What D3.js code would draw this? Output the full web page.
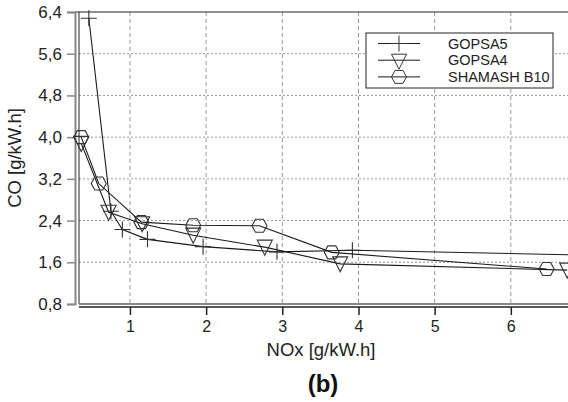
<!DOCTYPE html>
<html>
<head>
<meta charset="utf-8">
<script src="https://cdn.jsdelivr.net/npm/d3@7"></script>
<style>
    body { margin: 0; background: #fff; }
    svg { display: block; font-family: 'Liberation Sans', Arial, sans-serif; }
</style>
</head>
<body>
<div id="chart"></div>
<script>
// data
const seriesNames = ['GOPSA5', 'GOPSA4', 'SHAMASH B10'];
const gopsa5 = [[0.46, 6.28], [0.75, 2.58], [0.90, 2.23], [1.23, 2.04], [1.96, 1.90], [2.93, 1.80], [3.92, 1.83], [6.95, 1.74]];
const gopsa4 = [[0.36, 3.88], [0.72, 2.56], [1.16, 2.34], [1.83, 2.12], [2.77, 1.89], [3.76, 1.57], [6.74, 1.45]];
const shamash = [[0.36, 4.00], [0.59, 3.11], [1.15, 2.37], [1.83, 2.31], [2.70, 2.30], [3.65, 1.79], [6.47, 1.47]];
const xTicks = [1, 2, 3, 4, 5, 6];
const yTicks = [0.8, 1.6, 2.4, 3.2, 4.0, 4.8, 5.6, 6.4];

const width = 568;
const height = 402;
const padLeft = 79;
const padTop = 12;
const plotBottom = 304;

const x = d3.scaleLinear().domain([0.331, 7.0]).range([padLeft, 587]);
const y = d3.scaleLinear().domain([0.8, 6.4]).range([plotBottom, padTop]);
const fmt = (d) => d3.format('.1f')(d).replace('.', ',');

const svg = d3.select('#chart').append('svg')
    .attr('width', width)
    .attr('height', height);

// grid
svg.append('g').selectAll('line').data(xTicks).join('line')
    .attr('x1', (d) => x(d)).attr('x2', (d) => x(d))
    .attr('y1', padTop).attr('y2', plotBottom)
    .attr('stroke', '#999').attr('stroke-width', 1)
    .attr('stroke-dasharray', '4,3');
svg.append('g').selectAll('line').data(yTicks.slice(1, -1)).join('line')
    .attr('x1', padLeft).attr('x2', width)
    .attr('y1', (d) => y(d)).attr('y2', (d) => y(d))
    .attr('stroke', '#999').attr('stroke-width', 1)
    .attr('stroke-dasharray', '2,2');

// frame
svg.append('line').attr('x1', 75).attr('x2', width).attr('y1', padTop).attr('y2', padTop)
    .attr('stroke', '#222');
svg.append('line').attr('x1', padLeft).attr('x2', padLeft).attr('y1', padTop).attr('y2', plotBottom)
    .attr('stroke', '#222');
svg.append('line').attr('x1', padLeft).attr('x2', width).attr('y1', plotBottom).attr('y2', plotBottom)
    .attr('stroke', '#888').attr('stroke-width', 2);

// y axis (offset, grey)
const yAxis = d3.axisLeft(y).tickValues(yTicks).tickFormat(fmt).tickSize(8).tickPadding(5);
const gy = svg.append('g').attr('transform', 'translate(75,0)').call(yAxis);
gy.select('.domain').attr('stroke', '#888').attr('stroke-width', 2);
gy.selectAll('.tick line').attr('stroke', '#888').attr('stroke-width', 1.5);
gy.selectAll('.tick text').attr('fill', '#222').style('font-size', '17px');

// x axis (offset, black)
const xAxis = d3.axisBottom(x).tickValues(xTicks).tickFormat(d3.format('d')).tickSize(8).tickPadding(5.5);
const gx = svg.append('g').attr('transform', 'translate(0,307)').call(xAxis);
gx.select('.domain').attr('d', `M${padLeft},0H${width}`).attr('stroke', '#222').attr('stroke-width', 1.5);
gx.selectAll('.tick line').attr('stroke', '#222').attr('stroke-width', 1.5);
gx.selectAll('.tick text').attr('fill', '#222').style('font-size', '16px');

// markers
const plusPath = 'M-8,0H8M0,-8V8';
const triPath = 'M-7.5,-7L7.5,-7L0,8Z';
const hexPath = 'M-7.5,0L-4,-6.5L4,-6.5L7.5,0L4,6.5L-4,6.5Z';
const shapes = [plusPath, triPath, hexPath];
const allData = [gopsa5, gopsa4, shamash];

svg.append('clipPath').attr('id', 'clip')
    .append('rect').attr('x', 0).attr('y', 0).attr('width', width).attr('height', plotBottom + 10);

const line = d3.line().x((d) => x(d[0])).y((d) => y(d[1]));
const plot = svg.append('g').attr('clip-path', 'url(#clip)');
allData.forEach((data, i) => {
    plot.append('path')
        .attr('d', line(data))
        .attr('fill', 'none')
        .attr('stroke', '#1a1a1a')
        .attr('stroke-width', 1.1);
    plot.append('g').selectAll('path').data(data).join('path')
        .attr('transform', (d) => `translate(${x(d[0])},${y(d[1])})`)
        .attr('d', shapes[i])
        .attr('fill', 'none')
        .attr('stroke', '#333')
        .attr('stroke-width', 1.1);
});

// legend
const legend = svg.append('g');
legend.append('rect')
    .attr('x', 366).attr('y', 33).attr('width', 187).attr('height', 55)
    .attr('fill', '#fff').attr('stroke', '#222');
seriesNames.forEach((name, i) => {
    const ly = 43.5 + i * 16.7;
    legend.append('line').attr('x1', 378).attr('x2', 420).attr('y1', ly).attr('y2', ly)
        .attr('stroke', '#1a1a1a');
    legend.append('path').attr('transform', `translate(399,${ly + (i === 1 ? 1 : 0)})`)
        .attr('d', shapes[i]).attr('fill', 'none').attr('stroke', '#333');
    legend.append('text').attr('x', 448).attr('y', ly + 5)
        .attr('fill', '#222').style('font-size', '14.5px').text(name);
});

// labels
svg.append('text')
    .attr('transform', 'translate(21,158) rotate(-90)')
    .attr('text-anchor', 'middle')
    .attr('fill', '#222').style('font-size', '18.5px')
    .text('CO [g/kW.h]');
svg.append('text')
    .attr('x', 321).attr('y', 356)
    .attr('text-anchor', 'middle')
    .attr('fill', '#222').style('font-size', '18.5px')
    .text('NOx [g/kW.h]');
svg.append('text')
    .attr('x', 323).attr('y', 392)
    .attr('text-anchor', 'middle')
    .attr('fill', '#111').style('font-size', '24px').style('font-weight', 'bold')
    .text('(b)');
</script>
</body>
</html>
